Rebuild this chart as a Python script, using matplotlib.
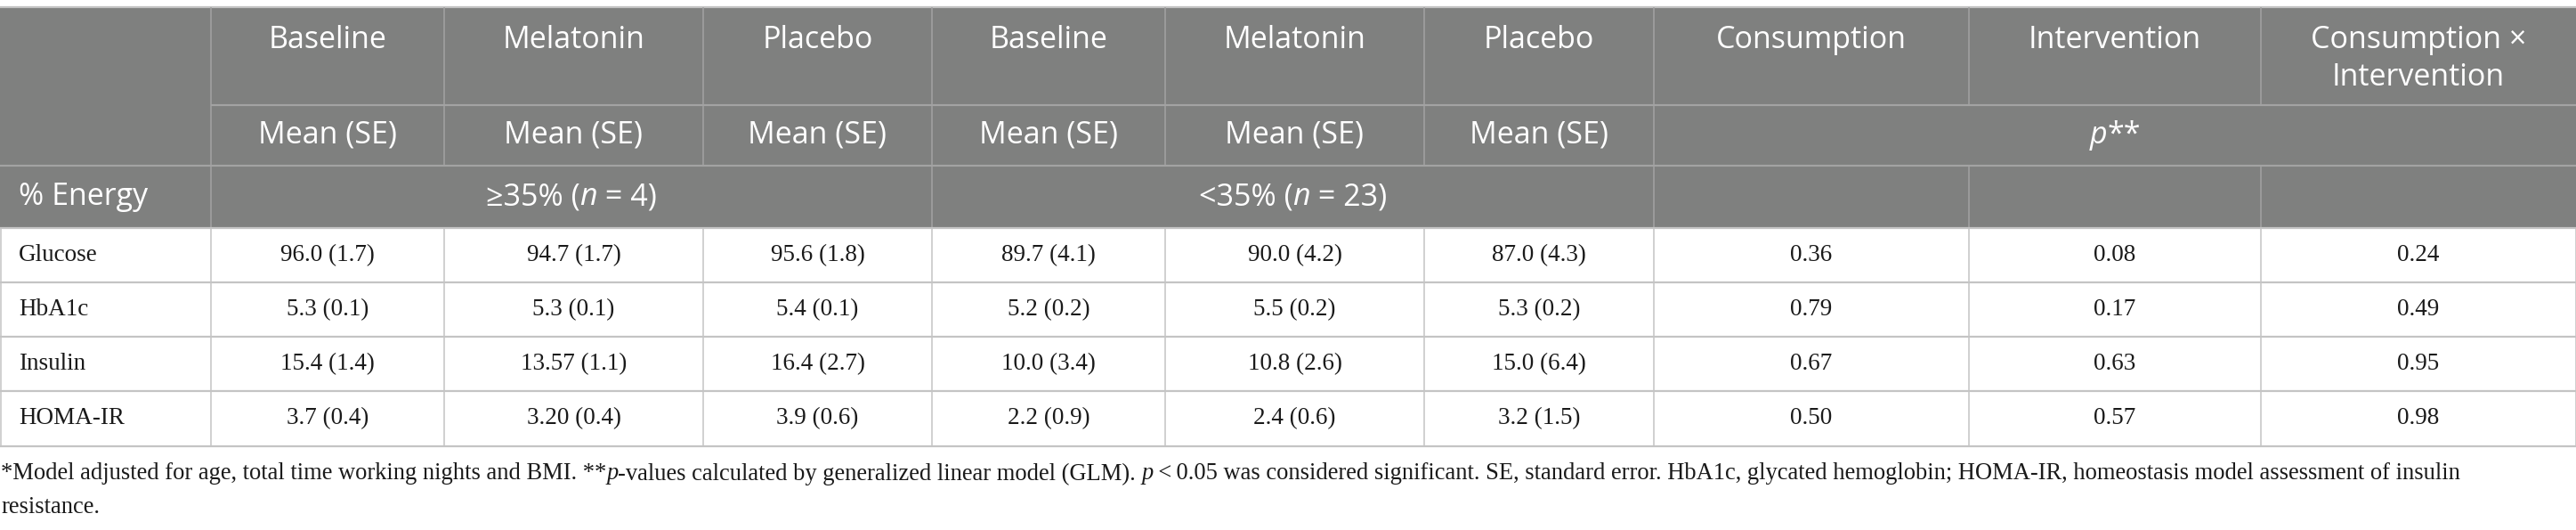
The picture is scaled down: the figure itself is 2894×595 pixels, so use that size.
import matplotlib
matplotlib.use("Agg")
import matplotlib.pyplot as plt
from matplotlib.patches import Rectangle


# --- datos de la tabla ---
medidas = ["Glucose", "HbA1c", "Insulin", "HOMA-IR"]

alto_basal = ["96.0 (1.7)", "5.3 (0.1)", "15.4 (1.4)", "3.7 (0.4)"]
alto_melatonina = ["94.7 (1.7)", "5.3 (0.1)", "13.57 (1.1)", "3.20 (0.4)"]
alto_placebo = ["95.6 (1.8)", "5.4 (0.1)", "16.4 (2.7)", "3.9 (0.6)"]

bajo_basal = ["89.7 (4.1)", "5.2 (0.2)", "10.0 (3.4)", "2.2 (0.9)"]
bajo_melatonina = ["90.0 (4.2)", "5.5 (0.2)", "10.8 (2.6)", "2.4 (0.6)"]
bajo_placebo = ["87.0 (4.3)", "5.3 (0.2)", "15.0 (6.4)", "3.2 (1.5)"]

p_consumo = ["0.36", "0.79", "0.67", "0.50"]
p_intervencion = ["0.08", "0.17", "0.63", "0.57"]
p_interaccion = ["0.24", "0.49", "0.95", "0.98"]

encabezados = ["Baseline", "Melatonin", "Placebo",
               "Baseline", "Melatonin", "Placebo",
               "Consumption", "Intervention", "Consumption \u00d7\nIntervention"]
subencabezado = "Mean (SE)"
grupos = ["\u226535% (", "<35% ("]
grupos_n = ["4)", "23)"]
etiqueta_energia = "% Energy"

nota_linea1 = [
    ("*Model adjusted for age, total time working nights and BMI. **", "normal"),
    ("p", "italic"),
    ("-values calculated by generalized linear model (GLM). ", "normal"),
    ("p", "italic"),
    ("\u2009<\u20090.05 was considered significant. SE, standard error. HbA1c, "
     "glycated hemoglobin; HOMA-IR, homeostasis model assessment of insulin", "normal"),
]
nota_linea2 = [("resistance.", "normal")]


# --- disposicion (pixeles) ---
W, H = 2894, 595
bordes_x = [0, 237, 499, 790, 1047, 1309, 1600, 1858, 2212, 2540, 2894]
y_top, y_h1, y_h2, y_h3 = 8, 118, 186, 256
filas_y = [256, 317, 378, 439, 501]

GRIS = "#7f807f"
LINEA_CAB = "#a3a3a3"
LINEA_DAT = "#c4c4c4"
SANS = "Open Sans"
SERIF = "Liberation Serif"
T_CAB = 24.5
T_DAT = 19.5
T_NOTA = 19.1

fig = plt.figure(figsize=(W / 100, H / 100), dpi=100)
ax = fig.add_axes([0, 0, 1, 1])
ax.set_xlim(0, W)
ax.set_ylim(H, 0)
ax.axis("off")
renderer = fig.canvas.get_renderer()


def ancho(texto, **kw):
    # ancho en pixeles, incluyendo espacios al borde
    t1 = ax.text(0, 0, "x" + texto + "x", **kw)
    t2 = ax.text(0, 0, "xx", **kw)
    w = t1.get_window_extent(renderer).width - t2.get_window_extent(renderer).width
    t1.remove()
    t2.remove()
    return w


def texto_rico(x, y, partes, ha="left", **kw):
    anchos = [ancho(s, style=st, **kw) for s, st in partes]
    total = sum(anchos)
    if ha == "center":
        x = x - total / 2
    for (s, st), w in zip(partes, anchos):
        ax.text(x, y, s, style=st, ha="left", va="center", **kw)
        x += w


# fondo del encabezado
ax.add_patch(Rectangle((0, y_top), W, y_h3 - y_top, facecolor=GRIS,
                       edgecolor="none", zorder=0))
ax.hlines(y_top, 0, W, color=LINEA_DAT, lw=1.6)

# lineas del encabezado
ax.vlines(bordes_x[1:-1], y_top, y_h1, color=LINEA_CAB, lw=1.1)
ax.vlines(bordes_x[1:8], y_h1, y_h2, color=LINEA_CAB, lw=1.1)
ax.vlines([bordes_x[i] for i in (1, 4, 7, 8, 9)], y_h2, y_h3,
          color=LINEA_CAB, lw=1.1)
ax.hlines(y_h1, bordes_x[1], W, color=LINEA_CAB, lw=1.6)
ax.hlines(y_h2, 0, W, color=LINEA_CAB, lw=1.6)

# lineas de los datos
ax.hlines(filas_y, 0, W, color=LINEA_DAT, lw=1.6)
ax.vlines(bordes_x[1:-1], filas_y[0], filas_y[-1], color=LINEA_DAT, lw=1.1)
ax.vlines([0.5, W - 0.5], filas_y[0], filas_y[-1], color=LINEA_DAT, lw=1.1)

centros = [(a + b) / 2 for a, b in zip(bordes_x[1:-1], bordes_x[2:])]
cab = dict(color="white", fontfamily=SANS, fontsize=T_CAB)

# fila 1 del encabezado
for cx, etiqueta in zip(centros, encabezados):
    for i, linea in enumerate(etiqueta.split("\n")):
        ax.text(cx, 45 + i * 42, linea, ha="center", va="center", **cab)

# fila 2 del encabezado
for cx in centros[:6]:
    ax.text(cx, (y_h1 + y_h2) / 2, subencabezado, ha="center", va="center", **cab)
texto_rico((bordes_x[7] + W) / 2, (y_h1 + y_h2) / 2,
           [("p", "italic"), ("**", "normal")], ha="center", **cab)

# fila 3 del encabezado
ax.text(21, (y_h2 + y_h3) / 2, etiqueta_energia, ha="left", va="center", **cab)
for (a, b), g, n in zip([(1, 4), (4, 7)], grupos, grupos_n):
    texto_rico((bordes_x[a] + bordes_x[b]) / 2, (y_h2 + y_h3) / 2,
               [(g, "normal"), ("n", "italic"), (" = " + n, "normal")],
               ha="center", **cab)

# cuerpo
columnas = [alto_basal, alto_melatonina, alto_placebo,
            bajo_basal, bajo_melatonina, bajo_placebo,
            p_consumo, p_intervencion, p_interaccion]
dat = dict(color="#1a1a1a", fontfamily=SERIF, fontsize=T_DAT)
for i, medida in enumerate(medidas):
    yc = (filas_y[i] + filas_y[i + 1]) / 2
    ax.text(21, yc, medida, ha="left", va="center", **dat)
    for cx, col in zip(centros, columnas):
        ax.text(cx, yc, col[i], ha="center", va="center", **dat)

# nota al pie
nota = dict(dat, fontsize=T_NOTA)
texto_rico(1, 532, nota_linea1, **nota)
texto_rico(1, 569, nota_linea2, **nota)

fig.savefig("out.png", dpi=100)
